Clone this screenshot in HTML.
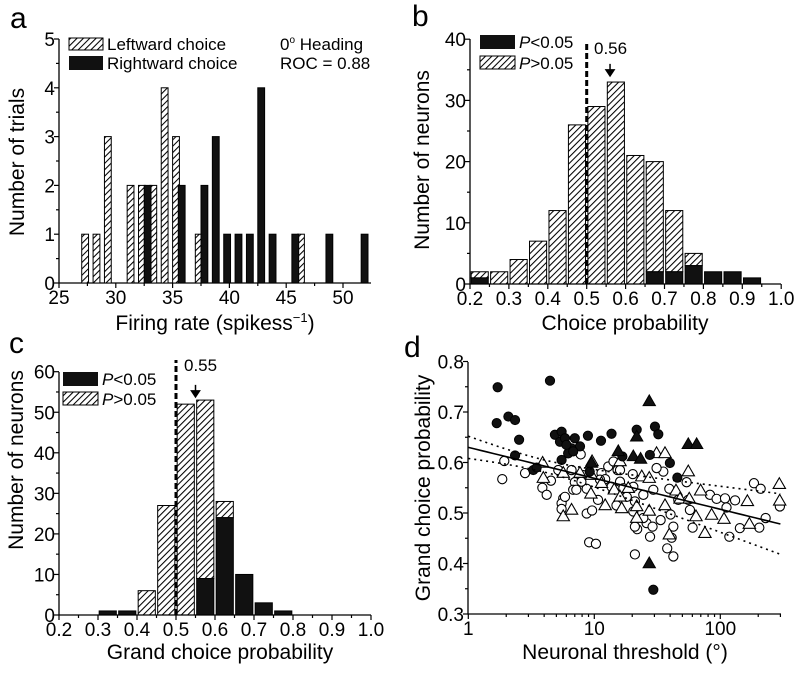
<!DOCTYPE html>
<html><head><meta charset="utf-8">
<style>
html,body{margin:0;padding:0;background:#fff;}
svg{display:block;font-family:"Liberation Sans",Arial,sans-serif;}
</style></head>
<body>
<svg id="fig" width="800" height="674" viewBox="0 0 800 674" xmlns="http://www.w3.org/2000/svg">
<defs>
<pattern id="hatch" patternUnits="userSpaceOnUse" width="4.5" height="4.5" patternTransform="rotate(45)">
<rect width="4.5" height="4.5" fill="#fff"/>
<line x1="0" y1="0" x2="0" y2="4.5" stroke="#000" stroke-width="2.1"/>
</pattern>
</defs>
</svg>
<script>
// ---------- Panel a data ----------
const aLeftX=[27.3,28.3,29.3,31.3,32.3,33.3,34.3,35.3,37.3,46.3];
const aLeftN=[1,1,3,2,2,2,4,3,1,1];
const aRightX=[32.8,35.8,37.8,38.8,39.8,40.8,41.8,42.8,43.8,45.8,48.8,51.9];
const aRightN=[2,2,2,3,1,1,1,4,1,1,1,1];
const aXTicks=[25,30,35,40,45,50];
const aYTicks=[0,1,2,3,4,5];
// ---------- Panel b data ----------
const bBins=[0.2,0.25,0.3,0.35,0.4,0.45,0.5,0.55,0.6,0.65,0.7,0.75,0.8,0.85,0.9];
const bTotal=[2,2,4,7,12,26,29,33,21,20,12,5,2,2,1];
const bSig=[1,0,0,0,0,0,0,0,0,2,2,3,2,2,1];
const bMedian=[0.56];
const bXTicks=[0.2,0.3,0.4,0.5,0.6,0.7,0.8,0.9,1.0];
const bYTicks=[0,10,20,30,40];
// ---------- Panel c data ----------
const cBins=[0.3,0.35,0.4,0.45,0.5,0.55,0.6,0.65,0.7,0.75];
const cTotal=[1,1,6,27,52,53,28,10,3,1];
const cSig=[1,1,0,0,0,9,24,10,3,1];
const cMedian=[0.55];
const cXTicks=[0.2,0.3,0.4,0.5,0.6,0.7,0.8,0.9,1.0];
const cYTicks=[0,10,20,30,40,50,60];
// ---------- Panel d data ----------
const dOpenCircX=[1.93,1.86,2.82,3.87,4.19,4.53,5.18,5.67,5.5,5.5,5.85,6.6,7.0,6.8,7.2,7.8,8.2,8.7,9.6,8.7,9.1,10.3,11.4,12.2,12.9,14.2,15.3,15.0,16.0,13.7,16.0,20.2,17.0,21.0,24.5,29.4,20.4,21.9,26.0,29.0,27.7,33.6,35.3,39.4,40.3,42.4,41.1,37.9,42.4,21.0,57.4,54.0,60.3,82.8,93.5,109,131,112,118,143,204,229,185,209,46.4,55.7,297,20.4,24.5,11.1,21.0,31.2,7.9,10.7,18.1];
const dOpenCircY=[0.603,0.567,0.579,0.550,0.536,0.564,0.585,0.529,0.519,0.508,0.532,0.585,0.561,0.546,0.546,0.616,0.575,0.499,0.505,0.548,0.442,0.439,0.579,0.567,0.592,0.602,0.585,0.515,0.562,0.552,0.585,0.577,0.549,0.523,0.536,0.546,0.503,0.468,0.480,0.473,0.453,0.486,0.582,0.548,0.497,0.473,0.451,0.430,0.414,0.418,0.506,0.561,0.471,0.536,0.528,0.529,0.525,0.511,0.453,0.470,0.471,0.490,0.559,0.548,0.526,0.526,0.513,0.552,0.490,0.566,0.473,0.589,0.562,0.526,0.532];
const dOpenTriX=[3.89,3.94,5.67,6.6,5.67,7.7,9.5,9.6,11.4,14.4,12.2,16.5,16.0,18.6,21.7,23.8,27.3,27.3,21.7,31.2,36.4,55.7,44.5,47.9,56.7,64.1,69.8,85.3,107,164,170,294,296,75.5,36.4,39.4,16.0,9.4];
const dOpenTriY=[0.599,0.569,0.493,0.506,0.579,0.579,0.575,0.602,0.559,0.546,0.515,0.509,0.532,0.549,0.513,0.572,0.569,0.504,0.490,0.618,0.618,0.582,0.544,0.528,0.528,0.493,0.544,0.496,0.488,0.523,0.478,0.557,0.524,0.460,0.515,0.457,0.602,0.538];
const dFillCircX=[1.71,1.68,2.08,2.35,2.53,2.35,3.28,3.49,4.45,4.87,5.5,5.34,5.85,7.0,6.6,6.2,5.5,7.7,8.9,11.3,13.7,9.2,21.7,30.3,32.2,39.8,45.6,16.7,27.6,29.4,6.0,6.8];
const dFillCircY=[0.749,0.678,0.691,0.684,0.645,0.614,0.585,0.590,0.762,0.655,0.661,0.641,0.648,0.648,0.628,0.618,0.605,0.632,0.653,0.643,0.657,0.582,0.665,0.671,0.656,0.599,0.570,0.612,0.615,0.348,0.635,0.622];
const dFillTriX=[27.3,21.7,20.4,23.3,55.7,64.9,27.3,15.5,9.5];
const dFillTriY=[0.721,0.651,0.612,0.607,0.636,0.636,0.400,0.622,0.599];
const dFitIntercept=[0.630];
const dFitSlope=[-0.0613];
const dXTicks=[1,10,100];
const dYTicks=[0.3,0.4,0.5,0.6,0.7,0.8];

const NS="http://www.w3.org/2000/svg";
const svg=document.getElementById('fig');
function mk(tag,attrs,parent){const e=document.createElementNS(NS,tag);for(const k in attrs)e.setAttribute(k,attrs[k]);(parent||svg).appendChild(e);return e;}
function txt(s,x,y,size,anchor,parent){const t=mk('text',{x:x,y:y,'font-size':size,'text-anchor':anchor||'start',fill:'#000'},parent);t.textContent=s;return t;}
const TICK=19, TITLE=21, LEG=17;

const aX=v=>59+(v-25)*11.36, aY=v=>283-v*48.8;
const bX=v=>470+(v-0.2)*389, bY=v=>284-v*6.12;
const cX=v=>59+(v-0.2)*390, cY=v=>615-v*4.055;
const dX=v=>468.3+Math.log10(v)*126, dY=v=>614-(v-0.3)*505;

function axes(g,x0,x1,y0,y1){
  const l=mk('path',{d:`M${x0},${y1} L${x0},${y0} L${x1},${y0}`,fill:'none',stroke:'#000','stroke-width':1.3},g);
  
  
}
function xtick(g,px,y0,len,label){mk('line',{x1:px,y1:y0,x2:px,y2:y0+len,stroke:'#000','stroke-width':1.2},g);if(label!==null){const t=txt(label,px,y0+21,TICK,'middle',g);}}
function ytick(g,py,x0,len,label){mk('line',{x1:x0,y1:py,x2:x0-len,y2:py,stroke:'#000','stroke-width':1.2},g);if(label!==null){const t=txt(label,x0-4,py+7,TICK,'end',g);}}

// ===== Panel a =====
const ga=mk('g',{});


axes(ga,59,371,283,39);
aXTicks.forEach(v=>xtick(ga,aX(v),283,5,String(v)));
aXTicks.forEach(v=>{if(v+2.5<=52)xtick(ga,aX(v+2.5),283,3,null);});
aYTicks.forEach(v=>ytick(ga,aY(v),59,5,String(v)));
aYTicks.forEach(v=>{if(v<5)ytick(ga,aY(v+0.5),59,3,null);});
aLeftX.forEach((v,i)=>{const r=mk('rect',{x:aX(v-0.3),y:aY(aLeftN[i]),width:0.6*11.36,height:aY(0)-aY(aLeftN[i]),fill:'url(#hatch)',stroke:'#000','stroke-width':1},ga);

});
aRightX.forEach((v,i)=>{const r=mk('rect',{x:aX(v-0.3),y:aY(aRightN[i]),width:0.6*11.36,height:aY(0)-aY(aRightN[i]),fill:'#111',stroke:'#000','stroke-width':1},ga);

});
let e;
e=mk('rect',{x:69,y:38,width:34,height:12,fill:'url(#hatch)',stroke:'#000','stroke-width':1},ga);


e=mk('rect',{x:69,y:56,width:34,height:14,fill:'#111'},ga);


e=txt('Leftward choice',107,50,LEG,'start',ga);


e=txt('Rightward choice',107,69,LEG,'start',ga);


e=mk('text',{x:280,y:50,'font-size':LEG},ga);e.innerHTML='0<tspan font-size="10" dy="-7">o</tspan><tspan dy="7"> Heading</tspan>';


e=txt('ROC = 0.88',280,69,LEG,'start',ga);


e=txt('a',10,28,30,'start',ga);


e=mk('text',{x:215,y:330,'font-size':TITLE,'text-anchor':'middle'},ga);e.innerHTML='Firing rate (spikess<tspan font-size="13" dy="-8">−1</tspan><tspan dy="8">)</tspan>';


e=txt('Number of trials',0,0,TITLE,'middle',ga);e.setAttribute('transform','translate(24,162) rotate(-90)');



function stacked(g,bins,tot,sig,X,Y,name){
  bins.forEach((b,i)=>{
    const x=X(b+0.003),w=X(b+0.047)-X(b+0.003);
    if(tot[i]>sig[i]){const r=mk('rect',{x:x,y:Y(tot[i]),width:w,height:Y(sig[i])-Y(tot[i]),fill:'url(#hatch)',stroke:'#000','stroke-width':1},g);
    
    }
    if(sig[i]>0){const r=mk('rect',{x:x,y:Y(sig[i]),width:w,height:Y(0)-Y(sig[i]),fill:'#111',stroke:'#000','stroke-width':1},g);
    
    }
  });
}
function legendPS(g,x,y1,y2){
  let r=mk('rect',{x:x,y:y1,width:35,height:14,fill:'#111'},g);
  
  
  r=mk('rect',{x:x,y:y2,width:35,height:13,fill:'url(#hatch)',stroke:'#000','stroke-width':1},g);
  
  
  let t=mk('text',{x:x+39,y:y1+13,'font-size':LEG},g);t.innerHTML='<tspan font-style="italic">P</tspan>&lt;0.05';
  
  
  t=mk('text',{x:x+39,y:y2+13,'font-size':LEG},g);t.innerHTML='<tspan font-style="italic">P</tspan>&gt;0.05';
  
  
}
function medianMark(g,X,Y,val,ytop,ybot,lx,ly){
  const l=mk('line',{x1:X(0.5),y1:Y(0),x2:X(0.5),y2:ytop,stroke:'#000','stroke-width':3,'stroke-dasharray':'6,3'},g);
  
  
  const ax=X(val);
  const a=mk('path',{d:`M${ax},${ybot-12} L${ax},${ybot-5} M${ax-4},${ybot-6} L${ax+4},${ybot-6} L${ax},${ybot} Z`,stroke:'#000','stroke-width':1.5,fill:'#000'},g);
  
  
  const t=txt(val.toFixed(2),lx,ly,LEG,'start',g);
  
  
}

// ===== Panel b =====
const gb=mk('g',{});


stacked(gb,bBins,bTotal,bSig,bX,bY,'b');
axes(gb,470,781,284,39);
bXTicks.forEach(v=>xtick(gb,bX(v),284,5,v.toFixed(1)));
bXTicks.forEach(v=>{if(v<1)xtick(gb,bX(v+0.05),284,3,null);});
bYTicks.forEach(v=>ytick(gb,bY(v),470,5,String(v)));
bYTicks.forEach(v=>{if(v<40)ytick(gb,bY(v+5),470,3,null);});
medianMark(gb,bX,bY,bMedian[0],42,bY(34),594,54);
legendPS(gb,480,35,56);
e=txt('b',412,26,30,'start',gb);


e=txt('Choice probability',625,330,TITLE,'middle',gb);


e=txt('Number of neurons',0,0,TITLE,'middle',gb);e.setAttribute('transform','translate(429,160) rotate(-90)');



// ===== Panel c =====
const gc=mk('g',{});


stacked(gc,cBins,cTotal,cSig,cX,cY,'c');
axes(gc,59,371,615,372);
cXTicks.forEach(v=>xtick(gc,cX(v),615,5,v.toFixed(1)));
cXTicks.forEach(v=>{if(v<1)xtick(gc,cX(v+0.05),615,3,null);});
cYTicks.forEach(v=>ytick(gc,cY(v),59,5,String(v)));
cYTicks.forEach(v=>{if(v<60)ytick(gc,cY(v+5),59,3,null);});
medianMark(gc,cX,cY,cMedian[0],360,cY(53.8),184,371);
legendPS(gc,63,372,392);
e=txt('c',9,353,30,'start',gc);


e=txt('Grand choice probability',220,659,TITLE,'middle',gc);


e=txt('Number of neurons',0,0,TITLE,'middle',gc);e.setAttribute('transform','translate(23,460) rotate(-90)');



// ===== Panel d =====
const gd=mk('g',{});


axes(gd,468,781,614,362);
dXTicks.forEach(v=>xtick(gd,dX(v),614,5,String(v)));
for(let dec=1;dec<=100;dec*=10){for(let m=2;m<=9;m++){const v=dec*m;if(v<=300)xtick(gd,dX(v),614,3,null);}}
dYTicks.forEach(v=>ytick(gd,dY(v),468,5,v.toFixed(1)));
dYTicks.forEach(v=>{if(v<0.8)ytick(gd,dY(v+0.05),468,3,null);});
function tri(x,y,s){return `M${x},${y-s} L${x+s*0.95},${y+s*0.65} L${x-s*0.95},${y+s*0.65} Z`;}
dOpenCircX.forEach((v,i)=>{const c=mk('circle',{cx:dX(v),cy:dY(dOpenCircY[i]),r:4.6,fill:'#fff',stroke:'#000','stroke-width':1.1},gd);

});
dOpenTriX.forEach((v,i)=>{const c=mk('path',{d:tri(dX(v),dY(dOpenTriY[i]),6.5),fill:'#fff',stroke:'#000','stroke-width':1.1},gd);

});
dFillCircX.forEach((v,i)=>{const c=mk('circle',{cx:dX(v),cy:dY(dFillCircY[i]),r:4.6,fill:'#111',stroke:'#000','stroke-width':1},gd);

});
dFillTriX.forEach((v,i)=>{const c=mk('path',{d:tri(dX(v),dY(dFillTriY[i]),6.5),fill:'#111',stroke:'#000','stroke-width':1},gd);

});
let pf='',pu='',pl='';
for(let k=0;k<=50;k++){const lx=k/50*2.477;const yv=dFitIntercept[0]+dFitSlope[0]*lx;
const w=Math.sqrt(0.000144+0.00097*(lx-0.592)*(lx-0.592));
const px=dX(Math.pow(10,lx));
pf+=(k?'L':'M')+px+','+dY(yv);pu+=(k?'L':'M')+px+','+dY(yv+w);pl+=(k?'L':'M')+px+','+dY(yv-w);}
e=mk('path',{d:pf,fill:'none',stroke:'#000','stroke-width':1.6},gd);


e=mk('path',{d:pu,fill:'none',stroke:'#000','stroke-width':1.6,'stroke-dasharray':'2,4'},gd);


e=mk('path',{d:pl,fill:'none',stroke:'#000','stroke-width':1.6,'stroke-dasharray':'2,4'},gd);


e=txt('d',404,357,30,'start',gd);


e=txt('Neuronal threshold (°)',625,659,TITLE,'middle',gd);


e=txt('Grand choice probability',0,0,TITLE,'middle',gd);e.setAttribute('transform','translate(430,488) rotate(-90)');


</script>
</body></html>
